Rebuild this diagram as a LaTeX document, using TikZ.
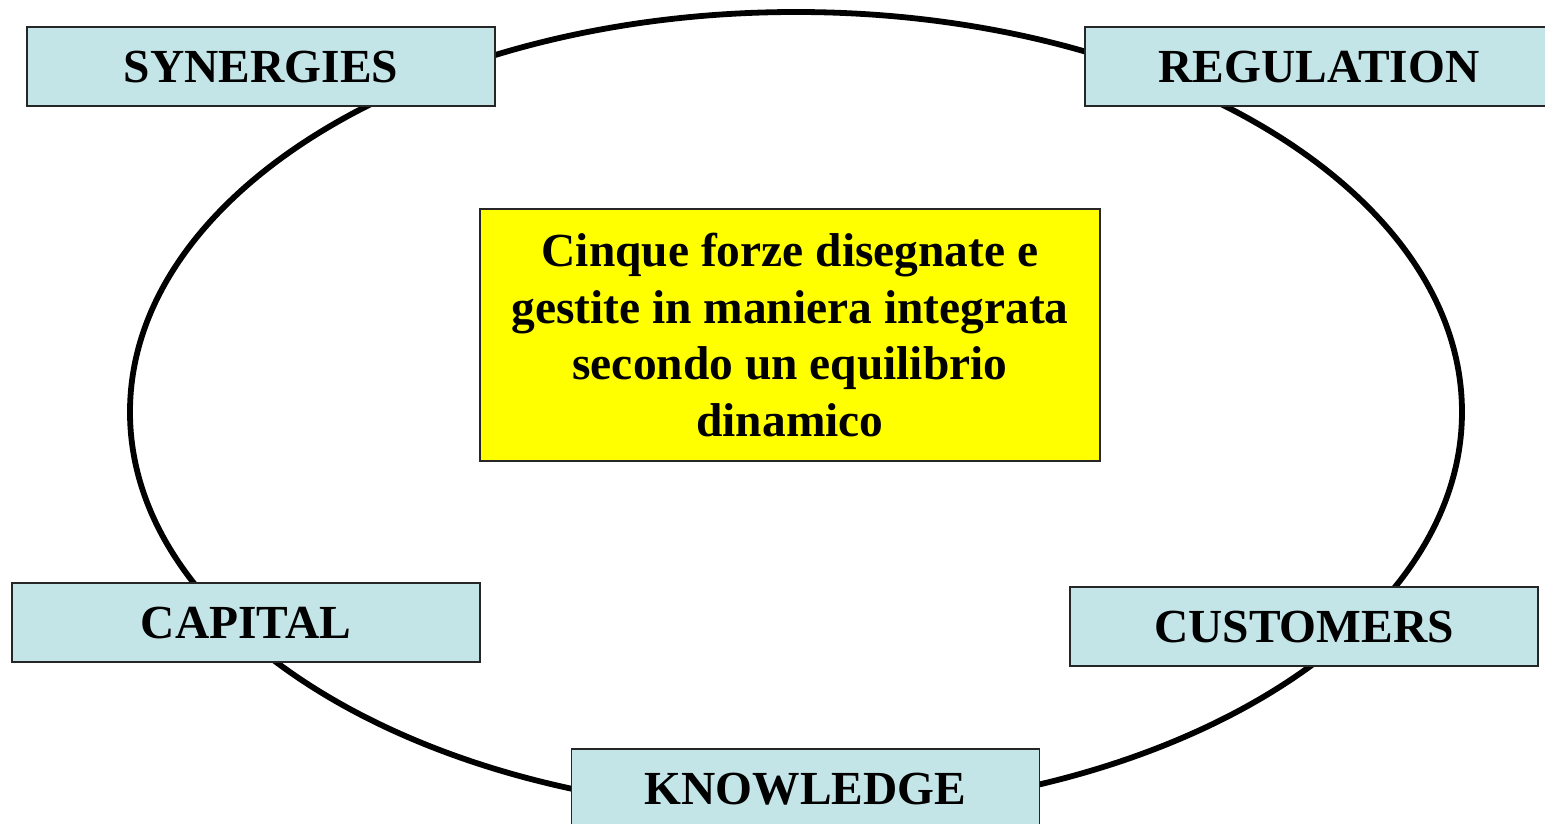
\documentclass[tikz,border=0pt]{standalone}
\usepackage{fontspec}
\setmainfont{Liberation Serif}
\usetikzlibrary{positioning}
\definecolor{paleteal}{HTML}{C4E5E8}
\definecolor{brightyellow}{HTML}{FFFF00}
\tikzset{
	force/.style={draw=black!85, rectangle, line width=0.8pt, inner sep=2pt, minimum width=9.36cm, minimum height=1.58cm, fill=paleteal, text height=0.66cm, font=\fontsize{27}{32}\selectfont\bfseries},
	core/.style={draw=black!85, rectangle, line width=0.8pt, inner sep=2pt, minimum width=12.4cm, minimum height=5.04cm, fill=brightyellow, align=center, font=\fontsize{27}{32.4}\selectfont\bfseries},
	ring/.style={draw=black, line width=3.3pt},
}

\begin{document}
\begin{tikzpicture}
	\useasboundingbox (-15.8,6.7) rectangle (15.1,-9.78);
	
	\coordinate (hub) at (0.12,-1.54);
	\draw [ring] (hub) ellipse (13.32cm and 8cm);
	
	\node (centre) [core] {Cinque forze disegnate e\\gestite in maniera integrata\\secondo un equilibrio\\dinamico};
	
	\node (synergies) [force, left of=centre, xshift=-9.58cm, yshift=5.37cm] {SYNERGIES};
	\node (regulation) [force, right of=centre, xshift=9.58cm, yshift=5.37cm] {REGULATION};
	\node (capital) [force, left of=centre, xshift=-9.88cm, yshift=-5.75cm] {CAPITAL};
	\node (customers) [force, right of=centre, xshift=9.28cm, yshift=-5.83cm] {CUSTOMERS};
	\node (knowledge) [force, below of=centre, xshift=0.31cm, yshift=-8.07cm] {KNOWLEDGE};
\end{tikzpicture}
\end{document}
